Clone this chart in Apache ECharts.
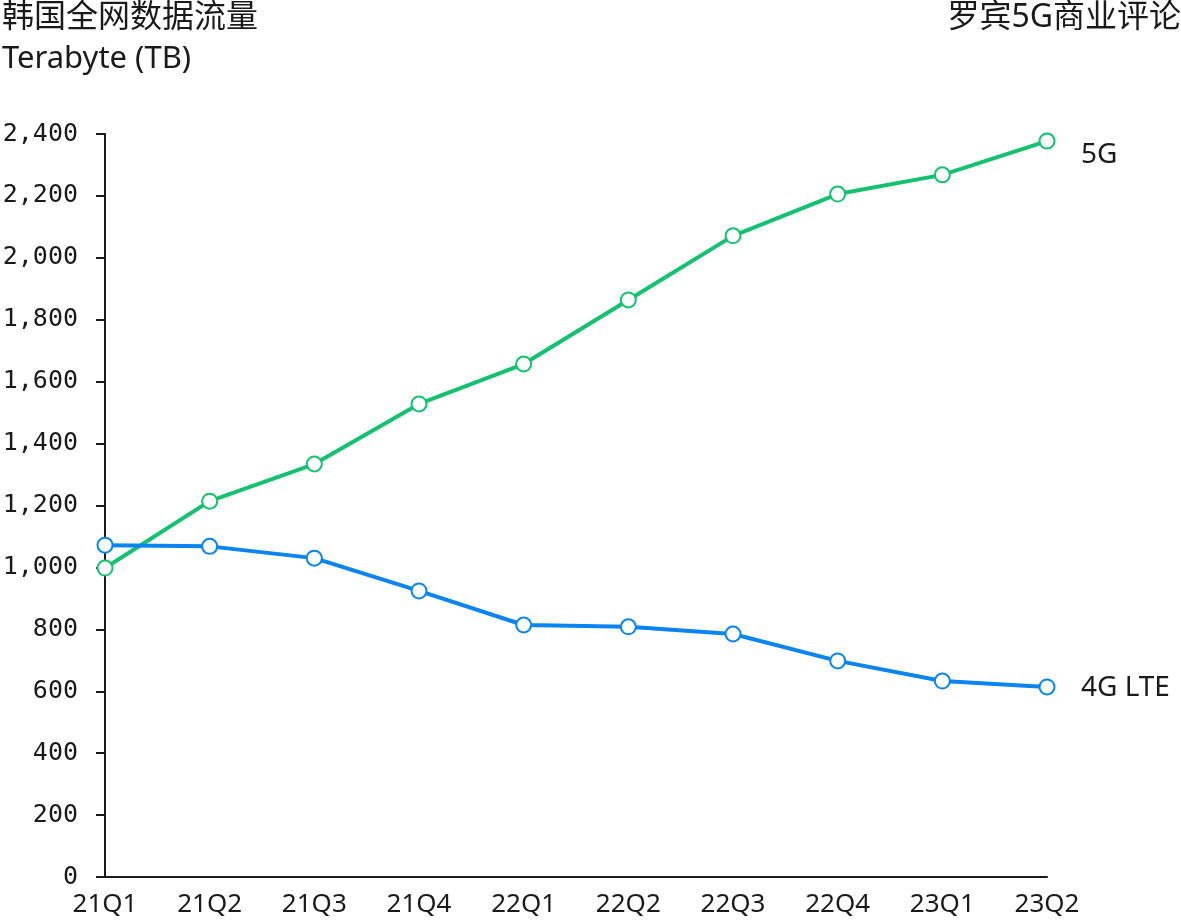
<!DOCTYPE html>
<html><head><meta charset="utf-8">
<script src="https://cdn.jsdelivr.net/npm/echarts@6/dist/echarts.min.js"></script>
<style>html,body{margin:0;padding:0;background:#fff}#c{width:1181px;height:922px}</style>
</head><body><div id="c"></div>
<script>
const categories = ['21Q1','21Q2','21Q3','21Q4','22Q1','22Q2','22Q3','22Q4','23Q1','23Q2'];
const values5G = [998, 1214, 1334, 1528, 1657, 1864, 2071, 2206, 2268, 2377];
const values4G = [1072, 1068, 1030, 924, 814, 808, 785, 698, 633, 614];
const yTicks = [0, 2400, 200];

const chart = echarts.init(document.getElementById('c'));
const txt = '#1a1a1a';
const sans = '"Noto Sans", "Noto Sans CJK SC", sans-serif';
chart.setOption({
  animation: false,
  title: [
    {text: '韩国全网数据流量', left: 2, top: 2, padding: 0, textStyle: {fontFamily: sans, fontSize: 32, fontWeight: 'normal', color: txt}},
    {text: 'Terabyte (TB)', left: 2, top: 44, padding: 0, textStyle: {fontFamily: sans, fontSize: 31, fontWeight: 'normal', color: txt}},
    {text: '罗宾5G商业评论', right: 0, top: 2, padding: 0, textStyle: {fontFamily: sans, fontSize: 32, fontWeight: 'normal', color: txt}}
  ],
  grid: {left: 105, right: 134, top: 134, bottom: 45, containLabel: false, outerBoundsMode: 'none'},
  xAxis: {
    type: 'category', data: categories, boundaryGap: false,
    axisLine: {lineStyle: {color: txt, width: 2}},
    axisTick: {show: false},
    axisLabel: {margin: 15, fontFamily: sans, fontSize: 26, color: txt}
  },
  yAxis: {
    type: 'value', min: yTicks[0], max: yTicks[1], interval: yTicks[2],
    axisLine: {show: true, lineStyle: {color: txt, width: 2}},
    axisTick: {show: true, length: 9, lineStyle: {color: txt, width: 2}},
    splitLine: {show: false},
    axisLabel: {margin: 27, fontFamily: '"DejaVu Sans Mono", monospace', fontSize: 25, color: txt,
      formatter: v => v.toLocaleString('en-US')}
  },
  series: [
    {name: '5G', type: 'line', data: values5G, symbol: 'circle', symbolSize: 15,
      lineStyle: {color: '#13C16E', width: 4}, itemStyle: {color: '#fff', borderColor: '#13C16E', borderWidth: 2},
      endLabel: {show: true, formatter: '5G', distance: 34, offset: [0, 14], fontFamily: sans, fontSize: 28, color: txt}},
    {name: '4G LTE', type: 'line', data: values4G, symbol: 'circle', symbolSize: 15,
      lineStyle: {color: '#0A84F0', width: 4}, itemStyle: {color: '#fff', borderColor: '#0A84F0', borderWidth: 2},
      endLabel: {show: true, formatter: '4G LTE', distance: 34, offset: [0, 1], fontFamily: sans, fontSize: 28, color: txt}}
  ]
});
</script></body></html>
